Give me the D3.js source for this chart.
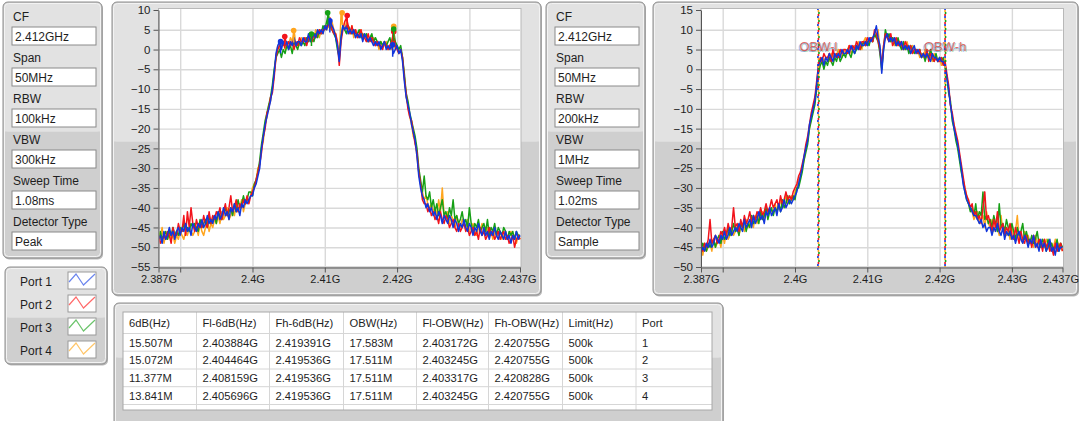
<!DOCTYPE html>
<html>
<head>
<meta charset="utf-8">
<script src="https://cdn.jsdelivr.net/npm/d3@7"></script>
<style>
body { margin: 0; background: #fff; }
svg text { font-family: "Segoe UI", "Liberation Sans", Arial, sans-serif; fill: #1e1e1e; }
</style>
</head>
<body>
<svg id="screen" width="1080" height="421"></svg>
<script>
// sweep grid: 2.387 GHz .. 2.437 GHz, 201 points (0.25 MHz apart)
const freqStart = 2.387, freqStep = 0.00025;

const ports = ["Port 1", "Port 2", "Port 3", "Port 4"];
const portColors = ["#1236dc", "#f2141c", "#16a016", "#ffa51e"];
const legendColors = ["#6c86ee", "#ff6a6a", "#6cc46c", "#ffc66a"];

const settingNames = ["CF", "Span", "RBW", "VBW", "Sweep Time", "Detector Type"];
const settingsLeft = ["2.412GHz", "50MHz", "100kHz", "300kHz", "1.08ms", "Peak"];
const settingsRight = ["2.412GHz", "50MHz", "200kHz", "1MHz", "1.02ms", "Sample"];

const xTickValues = [2.387, 2.39, 2.4, 2.41, 2.42, 2.43, 2.437];
const xTickLabels = ["2.387G", "", "2.4G", "2.41G", "2.42G", "2.43G", "2.437G"];
const yTicksLeft = [10, 5, 0, -5, -10, -15, -20, -25, -30, -35, -40, -45, -50, -55];
const yTicksRight = [15, 10, 5, 0, -5, -10, -15, -20, -25, -30, -35, -40, -45, -50];

// left chart (Peak detector), dBm per sweep point
const traceL1 = [
-48,-47,-49,-46,-48,-47,-45,-47,-46,-48, -46,-45,-47,-45,-46,-44,-46,-45,-47,-44,
-45,-46,-44,-45,-43,-45,-44,-42,-44,-43, -44,-42,-43,-41,-43,-42,-40,-42,-41,-43,
-40,-41,-39,-41,-40,-42,-39,-40,-38,-39, -38,-37,-37,-35,-34,-32,-30,-25,-22,-19,
-17,-15,-13,-10,-6,-1,1,2,0,2, 1,2,0,2,1,3,1,2,2,1,
3,2,2,4,2,3,4,3,5,4, 5,4,6,5,7,7,6,5,3,1,
-3,3,6,5,6,4,5,4,5,3, 4,3,4,2,4,3,2,3,2,1,
2,1,2,0,1,2,0,1,0,1, -1,0,1,-1,0,-3,-8,-12,-14,-16,
-19,-21,-23,-27,-32,-35,-37,-38,-40,-39, -41,-40,-42,-41,-43,-41,-42,-44,-42,-43,
-44,-42,-43,-45,-43,-44,-46,-44,-45,-43, -45,-46,-44,-45,-47,-45,-46,-44,-46,-47,
-45,-47,-46,-48,-46,-47,-45,-47,-48,-46, -47,-48,-46,-48,-47,-49,-47,-48,-46,-48,
-47];
const traceL2 = [
-47,-49,-48,-47,-48,-46,-47,-49,-45,-47, -47,-44,-46,-46,-42,-47,-41,-45,-40,-44,
-46,-43,-45,-44,-45,-42,-44,-45,-41,-44, -42,-43,-41,-42,-40,-43,-41,-39,-42,-40,
-37,-41,-40,-38,-41,-39,-40,-38,-39,-37, -39,-37,-36,-35,-33,-31,-29,-26,-22,-20,
-16,-15,-12,-11,-7,-2,0,1,2,1, 3,1,2,1,2,0,2,1,3,2,
2,3,1,3,3,2,4,3,4,5, 4,5,5,6,6,8,5,4,4,2,
-4,2,5,7,8,6,4,6,4,5, 3,4,5,3,3,2,4,2,3,2,
1,2,1,1,0,2,1,0,1,2, 4,1,0,-1,0,-2,-7,-11,-15,-17,
-18,-21,-24,-26,-31,-34,-38,-39,-39,-41, -40,-42,-41,-43,-42,-44,-41,-43,-44,-42,
-43,-45,-44,-43,-45,-46,-44,-46,-45,-44, -46,-45,-47,-46,-45,-47,-46,-48,-45,-47,
-46,-48,-47,-45,-47,-46,-48,-47,-46,-48, -47,-46,-48,-47,-49,-48,-47,-50,-48,-47,
-48];
const traceL3 = [
-48,-46,-48,-47,-46,-48,-46,-47,-45,-47, -46,-47,-45,-46,-44,-46,-45,-46,-44,-45,
-44,-45,-46,-43,-45,-44,-43,-45,-42,-44, -43,-42,-44,-41,-42,-43,-41,-40,-42,-41,
-40,-42,-39,-41,-38,-40,-39,-37,-39,-38, -36,-36,-37,-34,-33,-31,-28,-24,-21,-18,
-16,-14,-12,-9,-5,-2,-1,0,-2,0, -1,1,0,1,-1,2,1,0,2,1,
2,1,3,2,4,3,2,4,3,5, 4,6,5,7,9,6,5,4,3,0,
-2,3,6,5,4,6,5,4,5,4, 4,5,3,4,3,4,2,3,4,2,
3,2,1,2,1,2,1,2,3,1, 5,2,1,0,1,-2,-6,-11,-13,-16,
-18,-20,-22,-25,-30,-33,-36,-32,-37,-38, -36,-40,-38,-41,-39,-42,-40,-38,-42,-41,
-43,-40,-42,-38,-43,-42,-44,-43,-41,-44, -43,-45,-40,-44,-46,-44,-45,-43,-46,-45,
-44,-46,-43,-47,-45,-46,-44,-47,-45,-46, -47,-45,-46,-48,-46,-47,-46,-48,-46,-47,
-47];
const traceL4 = [
-46,-48,-45,-49,-47,-48,-46,-48,-47,-49, -47,-48,-46,-47,-48,-46,-47,-45,-46,-47,
-46,-45,-47,-44,-46,-47,-45,-43,-46,-44, -45,-43,-44,-42,-44,-41,-43,-42,-40,-43,
-42,-40,-42,-39,-41,-40,-38,-41,-39,-38, -38,-37,-35,-34,-33,-30,-29,-25,-23,-19,
-17,-14,-13,-10,-6,-2,1,0,1,2, 0,2,1,3,2,5,1,2,1,3,
2,3,2,3,2,4,3,5,4,3, 5,4,6,5,6,5,7,5,4,1,
-2,9,6,5,7,5,4,6,3,5, 4,3,5,3,4,3,2,3,2,3,
1,2,0,2,1,1,2,0,1,0, 2,0,1,-1,0,-2,-7,-12,-14,-17,
-19,-22,-23,-27,-31,-34,-36,-38,-37,-39, -40,-39,-41,-40,-42,-38,-41,-35,-42,-43,
-41,-44,-42,-43,-45,-42,-44,-45,-43,-44, -45,-43,-46,-45,-44,-46,-47,-45,-46,-44,
-46,-47,-45,-47,-46,-48,-46,-47,-47,-46, -48,-47,-46,-48,-47,-46,-48,-47,-49,-47,
-48];

// right chart (Sample detector)
const traceR1 = [
-46,-45,-46,-44,-45,-43,-45,-44,-42,-43, -44,-42,-43,-41,-43,-42,-40,-42,-41,-40,
-41,-39,-40,-41,-38,-40,-39,-38,-40,-37, -39,-38,-36,-38,-37,-39,-36,-37,-35,-37,
-36,-35,-37,-34,-36,-35,-33,-35,-34,-33, -34,-33,-32,-31,-29,-27,-25,-22,-20,-18,
-14,-12,-10,-8,-4,1,2,3,1,3, 2,4,3,2,4,3,4,3,5,4,
4,5,4,6,5,4,6,5,7,6, 6,7,6,8,7,8,9,11,8,6,
-1,5,8,9,7,8,7,8,6,7, 6,7,5,6,5,6,4,5,6,4,
5,4,3,4,3,4,3,2,4,3, 3,2,3,2,2,1,-2,-5,-9,-12,
-15,-17,-19,-22,-25,-29,-31,-33,-34,-35, -36,-37,-37,-38,-39,-38,-40,-39,-41,-40,
-40,-42,-40,-41,-39,-41,-42,-40,-43,-41, -42,-41,-43,-42,-44,-42,-41,-43,-44,-42,
-43,-45,-43,-44,-42,-45,-44,-46,-43,-45, -44,-46,-45,-43,-46,-45,-47,-44,-46,-45,
-45];
const traceR2 = [
-45,-46,-44,-45,-43,-38,-44,-43,-42,-44, -43,-41,-42,-40,-42,-39,-41,-40,-35,-40,
-39,-41,-38,-40,-37,-39,-38,-36,-39,-37, -38,-36,-37,-35,-37,-36,-34,-36,-35,-33,
-35,-34,-33,-35,-32,-34,-33,-31,-33,-32, -33,-31,-30,-29,-27,-26,-24,-22,-19,-17,
-14,-11,-9,-7,-3,1,3,2,4,3, 3,4,2,5,3,4,3,5,4,5,
5,4,6,5,6,5,7,6,5,7, 7,6,8,7,8,7,10,9,7,5,
1,6,9,8,7,9,6,7,8,6, 7,6,5,7,6,5,6,4,5,5,
4,5,3,4,3,5,2,4,3,2, 3,2,2,3,1,2,-1,-4,-9,-11,
-14,-16,-18,-21,-24,-27,-30,-32,-33,-35, -34,-37,-36,-38,-37,-39,-35,-31,-38,-37,
-39,-41,-38,-40,-36,-41,-40,-39,-42,-40, -41,-39,-42,-43,-40,-42,-44,-41,-43,-44,
-42,-44,-43,-45,-42,-44,-45,-43,-44,-46, -43,-45,-44,-46,-45,-47,-44,-46,-45,-44,
-46];
const traceR3 = [
-46,-44,-45,-46,-44,-45,-44,-43,-45,-43, -42,-44,-41,-43,-42,-40,-42,-41,-39,-41,
-40,-42,-39,-40,-38,-41,-39,-40,-37,-39, -38,-37,-39,-36,-38,-37,-35,-38,-36,-35,
-37,-35,-36,-34,-36,-33,-35,-34,-32,-34, -33,-32,-33,-30,-30,-28,-26,-23,-21,-19,
-15,-13,-11,-9,-5,-1,1,2,0,2, 1,3,2,1,3,2,4,2,3,4,
3,5,4,3,5,4,5,6,5,6, 7,6,7,6,8,7,9,8,7,4,
0,5,10,8,9,7,8,7,6,8, 6,5,7,5,6,4,6,5,4,5,
4,5,3,4,2,4,3,5,3,2, 4,2,3,2,3,1,-2,-6,-8,-13,
-15,-18,-20,-23,-26,-28,-31,-33,-34,-36, -35,-37,-34,-38,-36,-37,-31,-38,-37,-39,
-38,-40,-37,-39,-41,-34,-40,-39,-41,-38, -40,-42,-39,-41,-43,-40,-42,-41,-39,-43,
-41,-43,-44,-42,-44,-43,-41,-44,-45,-43, -44,-46,-43,-45,-44,-46,-45,-43,-46,-44,
-45];
const traceR4 = [
-45,-47,-44,-46,-45,-44,-46,-43,-45,-44, -43,-45,-42,-44,-41,-43,-42,-40,-42,-41,
-40,-42,-40,-39,-41,-38,-40,-39,-38,-40, -37,-39,-37,-38,-36,-38,-36,-37,-35,-36,
-36,-34,-36,-35,-33,-35,-34,-32,-34,-33, -32,-33,-31,-30,-28,-27,-25,-23,-20,-18,
-15,-12,-10,-8,-4,0,2,3,2,3, 3,2,4,3,4,3,5,4,3,5,
4,5,6,4,5,6,5,7,6,5, 7,8,6,7,8,7,9,8,10,5,
0,6,8,9,8,7,8,6,7,6, 7,5,6,5,7,5,4,6,5,4,
5,3,4,3,5,3,4,3,2,4, 3,2,3,1,2,1,-2,-5,-9,-12,
-14,-17,-19,-22,-25,-28,-30,-32,-34,-35, -36,-38,-37,-36,-39,-38,-37,-40,-36,-39,
-40,-38,-41,-39,-40,-42,-37,-41,-40,-42, -41,-43,-40,-42,-41,-37,-43,-42,-44,-41,
-43,-42,-44,-43,-45,-42,-44,-43,-45,-44, -45,-43,-44,-46,-44,-45,-43,-46,-44,-45,
-46];

const tracesLeft = [traceL1, traceL2, traceL3, traceL4];
const tracesRight = [traceR1, traceR2, traceR3, traceR4];

// measurement results per port
const bw6dB = [15.507, 15.072, 11.377, 13.841];          // MHz
const fl6dB = [2.403884, 2.404464, 2.408159, 2.405696];  // GHz
const fh6dB = [2.419391, 2.419536, 2.419536, 2.419536];
const obw = [17.583, 17.511, 17.511, 17.511];             // MHz
const flObw = [2.403172, 2.403245, 2.403317, 2.403245];
const fhObw = [2.420755, 2.420755, 2.420828, 2.420755];
const limitText = ["500k", "500k", "500k", "500k"];
const tableHeaders = ["6dB(Hz)", "Fl-6dB(Hz)", "Fh-6dB(Hz)", "OBW(Hz)", "Fl-OBW(Hz)", "Fh-OBW(Hz)", "Limit(Hz)", "Port"];

// peak and -6dB markers on the left chart (levels)
const peakFreq = [2.4107, 2.4131, 2.4104, 2.4124];
const peakLevel = [7.3, 8.6, 9.3, 9.3];
const flLevel = [2.0, 3.3, 3.9, 4.8];
const fhLevel = [1.2, 4.5, 5.2, 5.9];

const svg = d3.select('#screen');

// LabVIEW style frame, lighter top half / darker bottom half
function frame(x, y, w, h, split) {
    const g = svg.append('g');
    g.append('rect').attr('x', x + 1).attr('y', y + 1.5).attr('width', w).attr('height', h)
        .attr('rx', 5).attr('fill', '#b9b9b9');
    g.append('rect').attr('x', x).attr('y', y).attr('width', w).attr('height', h)
        .attr('rx', 5).attr('fill', '#cfcfcf').attr('stroke', '#8e8e8e');
    g.append('rect').attr('x', x + 1.5).attr('y', y + 1.5).attr('width', w - 3).attr('height', split - y)
        .attr('rx', 4).attr('fill', '#e2e2e2');
    g.append('rect').attr('x', x + 1.5).attr('y', y + 8).attr('width', w - 3).attr('height', split - y - 6.5)
        .attr('fill', '#e2e2e2');
    g.append('rect').attr('x', x + 1.5).attr('y', y + 1.5).attr('width', w - 3).attr('height', h - 3)
        .attr('rx', 4).attr('fill', 'none').attr('stroke', '#f3f3f3');
    return g;
}

function settingsPanel(x, values) {
    const g = frame(x, 2, 99, 256, 130);
    settingNames.forEach((name, i) => {
        const top = 27 + i * 41;
        g.append('text').attr('x', x + 10).attr('y', top - 6).style('font-size', '12px').text(name);
        g.append('rect').attr('x', x + 9).attr('y', top).attr('width', 84).attr('height', 18)
            .attr('fill', '#fff').attr('stroke', '#8a8a8a');
        g.append('text').attr('x', x + 12).attr('y', top + 13.5).style('font-size', '12px').text(values[i]);
    });
}

settingsPanel(3, settingsLeft);
settingsPanel(546, settingsRight);

// legend
const legend = frame(5, 267, 102, 97, 316);
const zig = d3.line();
ports.forEach((p, i) => {
    const cy = 281 + i * 23;
    legend.append('text').attr('x', 20).attr('y', cy + 4.5).style('font-size', '12px').text(p);
    legend.append('rect').attr('x', 68).attr('y', cy - 9).attr('width', 28).attr('height', 17)
        .attr('fill', '#fff').attr('stroke', '#9a9a9a');
    legend.append('path')
        .attr('d', zig([[69, cy + 1], [76, cy - 7], [83.5, cy + 4], [95, cy - 7]]))
        .attr('fill', 'none').attr('stroke', legendColors[i]).attr('stroke-width', 1.2);
});

function chart(opt) {
    const g = frame(opt.fx, 2, opt.fw, 293, 140);
    const x = d3.scaleLinear().domain([2.387, 2.437]).range([opt.left, opt.right]);
    const y = d3.scaleLinear().domain([opt.yTicks[opt.yTicks.length - 1], opt.yTicks[0]]).range([267, 10]);

    g.append('rect').attr('x', opt.left).attr('y', 8.5).attr('width', opt.right - opt.left + 1)
        .attr('height', 258.5).attr('fill', '#fff').attr('stroke', '#b8b8b8');

    // grid
    g.append('g').attr('transform', `translate(0,267)`)
        .call(d3.axisBottom(x).tickValues(xTickValues.slice(1, -1)).tickSize(-258).tickFormat(''))
        .call(a => a.select('.domain').remove())
        .selectAll('line').attr('stroke', '#d9d9d9').attr('stroke-width', 1.4);
    g.append('g').attr('transform', `translate(${opt.left},0)`)
        .call(d3.axisLeft(y).tickValues(opt.yTicks.slice(1, -1)).tickSize(-(opt.right - opt.left)).tickFormat(''))
        .call(a => a.select('.domain').remove())
        .selectAll('line').attr('stroke', '#d9d9d9').attr('stroke-width', 1.4);

    // axes
    const yAx = g.append('g').attr('transform', `translate(${opt.left},0)`)
        .call(d3.axisLeft(y).tickValues(opt.yTicks).tickSize(5).tickSizeOuter(0).tickPadding(3));
    const xAx = g.append('g').attr('transform', `translate(0,267.5)`)
        .call(d3.axisBottom(x).tickValues(xTickValues).tickFormat((d, i) => xTickLabels[i])
            .tickSize(5).tickSizeOuter(0).tickPadding(3));
    [yAx, xAx].forEach(a => {
        a.select('.domain').attr('stroke', '#555');
        a.selectAll('.tick line').attr('stroke', '#555');
        a.selectAll('text').attr('fill', '#222')
            .style('font-family', '"Segoe UI","Liberation Sans",Arial,sans-serif');
    });
    yAx.selectAll('text').style('font-size', '11.5px');
    xAx.selectAll('text').style('font-size', '11px');
    // last label sits a little left of its tick, as in the reference
    xAx.selectAll('.tick').filter(d => d === 2.437).select('text')
        .attr('text-anchor', 'end').attr('x', 16);

    const clipId = 'clip' + opt.fx;
    svg.append('clipPath').attr('id', clipId).append('rect')
        .attr('x', opt.left + 1).attr('y', 9).attr('width', opt.right - opt.left).attr('height', 258);
    const plot = g.append('g').attr('clip-path', `url(#${clipId})`);

    const line = d3.line().x((d, i) => x(freqStart + i * freqStep)).y(d => y(d));
    [3, 2, 1, 0].forEach(p => {
        plot.append('path').attr('d', line(opt.traces[p])).attr('fill', 'none')
            .attr('stroke', portColors[p]).attr('stroke-width', 1.5).attr('stroke-linejoin', 'round');
    });
    return { g, plot, x, y };
}

const left = chart({ fx: 112, fw: 429, left: 158.5, right: 520, yTicks: yTicksLeft, traces: tracesLeft });
const right = chart({ fx: 653, fw: 425, left: 701, right: 1062.5, yTicks: yTicksRight, traces: tracesRight });

// markers on left chart
[1, 3, 0, 2].forEach(p => {
    const pts = [[fl6dB[p], flLevel[p]], [peakFreq[p], peakLevel[p]], [fh6dB[p], fhLevel[p]]];
    pts.forEach(([f, v]) => {
        left.plot.append('line').attr('x1', left.x(f)).attr('x2', left.x(f))
            .attr('y1', left.y(v)).attr('y2', left.y(v - 3)).attr('stroke', portColors[p]).attr('stroke-width', 1.5);
        left.plot.append('circle').attr('cx', left.x(f)).attr('cy', left.y(v)).attr('r', 2.8)
            .attr('fill', portColors[p]);
    });
});

// OBW cursors on right chart: one dotted line per port
[0, 1, 2, 3].forEach(p => {
    [flObw[p], fhObw[p]].forEach(f => {
        const cx = right.x(f);
        right.plot.append('line').attr('x1', cx).attr('x2', cx).attr('y1', 8).attr('y2', 268)
            .attr('stroke', portColors[p]).attr('stroke-width', 1.6)
            .attr('stroke-dasharray', '2 6').attr('stroke-dashoffset', p * 2);
    });
});
// cursor names: the four ports' labels stack into one ghosted label
[[d3.mean(flObw), 'OBW-l'], [d3.mean(fhObw), 'OBW-h']].forEach(([f, label]) => {
    right.plot.append('text').attr('x', right.x(f)).attr('y', 51)
        .attr('text-anchor', 'middle').style('font-size', '13px')
        .style('fill', 'rgba(214,60,60,0.75)')
        .style('text-shadow', '-1.5px 0.8px 0 rgba(18,54,220,0.45), 1px 0.5px 0 rgba(22,160,22,0.4)')
        .text(label);
});

// results table
const tg = frame(114, 303, 609, 128, 356);
const colX = [123, 196.5, 269.5, 343.5, 416.5, 488.5, 562.5, 636, 712];
const rowY = [312, 333.5, 351.2, 369, 386.7, 404.5];
tg.append('rect').attr('x', colX[0]).attr('y', 312).attr('width', colX[8] - colX[0]).attr('height', 98)
    .attr('fill', '#fff');
colX.slice(1, -1).forEach(cx => tg.append('line').attr('x1', cx).attr('x2', cx).attr('y1', 312).attr('y2', 410)
    .attr('stroke', '#d6d6d6'));
rowY.slice(1).forEach(ry => tg.append('line').attr('x1', colX[0]).attr('x2', colX[8]).attr('y1', ry).attr('y2', ry)
    .attr('stroke', '#d6d6d6'));
tg.append('rect').attr('x', colX[0]).attr('y', 312).attr('width', colX[8] - colX[0]).attr('height', 98)
    .attr('fill', 'none').attr('stroke', '#a8a8a8');

const rows = ports.map((p, i) => [
    bw6dB[i].toFixed(3) + 'M', fl6dB[i].toFixed(6) + 'G', fh6dB[i].toFixed(6) + 'G',
    obw[i].toFixed(3) + 'M', flObw[i].toFixed(6) + 'G', fhObw[i].toFixed(6) + 'G',
    limitText[i], String(i + 1)
]);
tg.selectAll('text.head').data(tableHeaders).join('text').attr('class', 'head')
    .attr('x', (d, i) => colX[i] + 6).attr('y', 327).style('font-size', '11.2px').text(d => d);
rows.forEach((r, ri) => {
    tg.selectAll(`text.r${ri}`).data(r).join('text').attr('class', `r${ri}`)
        .attr('x', (d, i) => colX[i] + 6).attr('y', rowY[ri + 1] + 13).style('font-size', '11.2px').text(d => d);
});
</script>
</body>
</html>
